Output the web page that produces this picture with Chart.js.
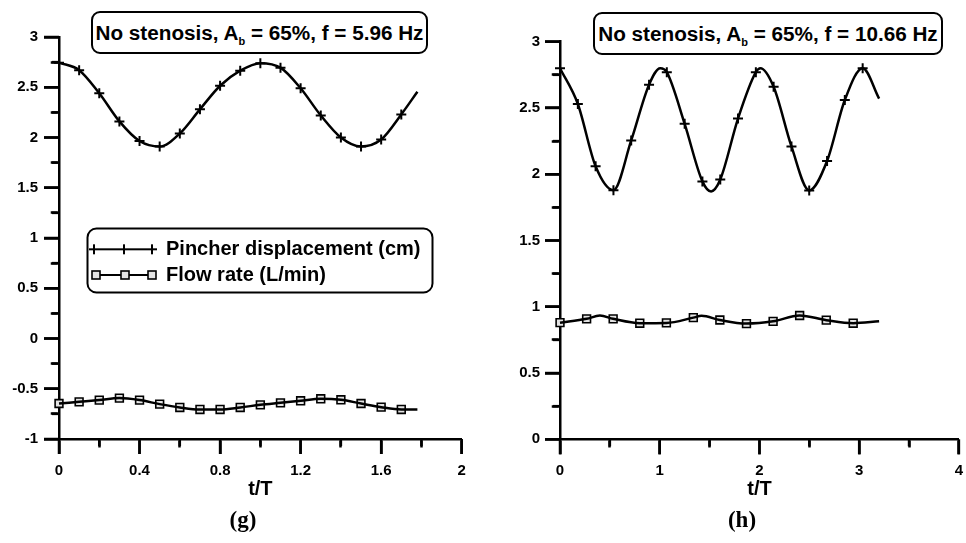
<!DOCTYPE html>
<html><head><meta charset="utf-8">
<script src="https://cdn.jsdelivr.net/npm/chart.js@4.4.0/dist/chart.umd.min.js"></script>
<style>
html,body{margin:0;padding:0;background:#fff;}
#wrap{position:relative;width:966px;height:543px;overflow:hidden;font-family:"Liberation Sans",Arial,sans-serif;}
canvas{position:absolute;top:0;}
canvas.ov{z-index:5;pointer-events:none;}
.tbox{position:absolute;box-sizing:border-box;border:2px solid #000;border-radius:9px;background:#fff;display:flex;align-items:center;justify-content:center;font-weight:bold;font-size:20.7px;color:#000;white-space:nowrap;}
.sb{font-size:11px;position:relative;top:5px;}
.cap{position:absolute;top:507px;font-family:"Liberation Serif",serif;font-weight:bold;font-size:23px;color:#000;transform:translateX(-50%);}
</style></head>
<body><div id="wrap">
<canvas id="cg" width="483" height="543" style="left:0"></canvas>
<canvas id="ch" width="483" height="543" style="left:483px"></canvas>
<div class="tbox" style="left:91px;top:11px;width:337px;height:43px;"><span>No stenosis, A<span class="sb">b</span> = 65%, f = 5.96 Hz</span></div>
<div class="tbox" style="left:593px;top:12px;width:350px;height:43px;"><span>No stenosis, A<span class="sb">b</span> = 65%, f = 10.66 Hz</span></div>
<div class="cap" style="left:243px;">(g)</div>
<div class="cap" style="left:742px;">(h)</div>
<canvas id="og" class="ov" width="483" height="543" style="left:0;width:483px;height:543px"></canvas>
<canvas id="oh" class="ov" width="483" height="543" style="left:483px;width:483px;height:543px"></canvas>
</div>
<script>
// ---------- data ----------
const seriesLabels = ['Pincher displacement (cm)', 'Flow rate (L/min)'];
const xTitle = 't/T';

// panel (g)
const gPinchT = [0,0.1,0.2,0.3,0.4,0.5,0.6,0.7,0.8,0.9,1.0,1.1,1.2,1.3,1.4,1.5,1.6,1.7];
const gPinchY = [2.745,2.67,2.44,2.16,1.965,1.91,2.04,2.28,2.515,2.665,2.74,2.695,2.49,2.22,2.0,1.91,1.98,2.23];
const gPinchExtraT = [1.78];
const gPinchExtraY = [2.455];
const gFlowT = [0,0.1,0.2,0.3,0.4,0.5,0.6,0.7,0.8,0.9,1.0,1.1,1.2,1.3,1.4,1.5,1.6,1.7];
const gFlowY = [-0.647,-0.63,-0.613,-0.593,-0.613,-0.653,-0.686,-0.706,-0.706,-0.686,-0.66,-0.64,-0.62,-0.60,-0.61,-0.647,-0.683,-0.706];
const gFlowExtraT = [1.78];
const gFlowExtraY = [-0.706];

// panel (h)
const hPinchT = [0,0.179,0.357,0.536,0.714,0.893,1.071,1.25,1.428,1.607,1.785,1.964,2.142,2.321,2.499,2.678,2.856,3.035];
const hPinchY = [2.80,2.53,2.06,1.88,2.255,2.676,2.77,2.38,1.946,1.96,2.42,2.77,2.66,2.21,1.878,2.10,2.56,2.80];
const hPinchExtraT = [1.005,1.515,2.01,3.2];
const hPinchExtraY = [2.80,1.87,2.80,2.57];
const hFlowT = [0,0.267,0.533,0.8,1.067,1.337,1.603,1.87,2.137,2.403,2.67,2.94];
const hFlowY = [0.88,0.909,0.909,0.876,0.878,0.918,0.90,0.873,0.89,0.934,0.899,0.876];
const hFlowExtraT = [0.4,1.42,3.2];
const hFlowExtraY = [0.934,0.932,0.89];

// ---------- helpers ----------
const FONT = '"Liberation Sans", Arial, sans-serif';
function pts(t, y){ return t.map((v,i)=>({x:v, y:y[i]})); }
function curve(t, y, et, ey){ return pts(t,y).concat(pts(et,ey)).sort((a,b)=>a.x-b.x); }
const fmt = v => String(Math.round(v*1000)/1000);
const isMajor = (v, m) => Math.abs(v/m - Math.round(v/m)) < 1e-6;
const TL = 15;     // major tick length
const MINOR = 7;   // minor tick length

function legendSymbol(kind){
  const c = document.createElement('canvas');
  c.width = 68; c.height = 14;
  const g = c.getContext('2d');
  g.strokeStyle = '#000'; g.lineWidth = 2.2;
  g.beginPath(); g.moveTo(3,7); g.lineTo(65,7); g.stroke();
  const xs = kind === 'cross' ? [5,35,63] : [7,36,63];
  xs.forEach(x=>{
    if (kind === 'cross') {
      g.lineWidth = 2;
      g.beginPath(); g.moveTo(x-5,7); g.lineTo(x+5,7); g.moveTo(x,2); g.lineTo(x,12); g.stroke();
    } else {
      g.lineWidth = 1.6; g.fillStyle = '#e4e4e4';
      g.fillRect(x-4,3,8,8); g.strokeRect(x-4,3,8,8);
    }
  });
  return c;
}

function legendPlace(o){
  return {
    id: 'legendPlace',
    afterLayout(chart){
      if (!o || !chart.legend) return;
      const L = chart.legend;
      L.left = o.x; L.top = o.y; L.right = o.x + o.w; L.bottom = o.y + o.h;
      L.width = o.w; L.height = o.h;
    },
    afterDraw(chart){
      if (!o) return;
      const ctx = chart.ctx;
      ctx.save(); ctx.strokeStyle = '#000'; ctx.lineWidth = 2;
      ctx.beginPath(); ctx.roundRect(o.bx, o.by, o.bw, o.bh, 9); ctx.stroke();
      ctx.restore();
    }
  };
}

// tick marks drawn from the chart's own scales onto an overlay canvas
function tickOverlay(overlayId, t){
  return {
    id: 'tickOverlay',
    afterRender(chart){
      const g = document.getElementById(overlayId).getContext('2d');
      const ca = chart.chartArea, xs = chart.scales.x, ys = chart.scales.y;
      g.clearRect(0, 0, 483, 543);
      g.strokeStyle = '#000'; g.lineWidth = 2.5; g.setLineDash([]);
      let n = Math.round((ys.max - ys.min)/t.yMinor);
      for (let i=0;i<=n;i++){
        const v = ys.min + i*t.yMinor, p = ys.getPixelForValue(v);
        g.beginPath(); g.moveTo(ca.left - (isMajor(v,t.yMajor)?TL:MINOR), p); g.lineTo(ca.left, p); g.stroke();
      }
      n = Math.round((xs.max - xs.min)/t.xMinor);
      for (let i=0;i<=n;i++){
        const v = xs.min + i*t.xMinor, p = xs.getPixelForValue(v);
        g.beginPath(); g.moveTo(p, ca.bottom); g.lineTo(p, ca.bottom + (isMajor(v,t.xMajor)?TL:MINOR)); g.stroke();
      }
    }
  };
}

function axisGrid(major, outerFirst){
  return {
    display:true, drawOnChartArea:false, drawTicks:true, tickLength:TL, tickWidth:2.5, tickColor:'#000', color:'#000',
    tickBorderDash(c){
      if (!c.tick || isMajor(c.tick.value, major)) return [];
      return outerFirst ? [0, TL - 1.25 - MINOR, MINOR, 60] : [MINOR, 60];
    }
  };
}

function makeChart(id, overlayId, d){
  const t = d.ticks;
  const datasets = [
    {label:'c1', data: curve(d.pT,d.pY,d.pET,d.pEY), borderColor:'#000', borderWidth:2.5, pointRadius:0, cubicInterpolationMode:'monotone', clip:false},
    {label: seriesLabels[0], data: pts(d.pT,d.pY), showLine:false, pointStyle:'cross', pointRadius:5, pointBorderWidth:2, borderColor:'#000', clip:false, legendKind:'cross'},
    {label:'c2', data: curve(d.fT,d.fY,d.fET,d.fEY), borderColor:'#000', borderWidth:2.5, pointRadius:0, cubicInterpolationMode:'monotone', clip:false},
    {label: seriesLabels[1], data: pts(d.fT,d.fY), showLine:false, pointStyle:'rect', pointRadius:5.5, pointBorderWidth:1.6, borderColor:'#000', backgroundColor:'#e4e4e4', clip:false, legendKind:'rect'}
  ];
  return new Chart(document.getElementById(id), {
    type:'line',
    data:{datasets},
    options:{
      responsive:false, animation:false, devicePixelRatio:1,
      layout:{padding:{left:0, top:d.padTop, right:d.padRight, bottom:0}},
      plugins:{
        title:{display:false}, tooltip:{enabled:false},
        legend:{
          display:!!d.legend, position:'chartArea', align:'start',
          labels:{
            usePointStyle:true, pointStyleWidth:66, padding:5.7, color:'#000',
            font:{family:FONT, weight:'bold', size:20},
            generateLabels(chart){
              return chart.data.datasets.map((ds,i)=>({ds,i})).filter(o=>o.ds.legendKind).map(o=>({
                text:o.ds.label, pointStyle:legendSymbol(o.ds.legendKind), fillStyle:'#000', strokeStyle:'#000', lineWidth:0, hidden:false, datasetIndex:o.i, fontColor:'#000'
              }));
            }
          }
        }
      },
      scales:{
        x:{type:'linear', min:d.xMin, max:d.xMax,
           grid:axisGrid(t.xMajor, false), border:{display:true, color:'#000', width:2.5},
           ticks:{stepSize:t.xMinor, padding:7.5, color:'#000', font:{family:FONT, weight:'bold', size:15}, maxRotation:0, autoSkip:false,
                  callback:v => isMajor(v, t.xMajor) ? fmt(v) : ''},
           title:{display:true, text:xTitle, color:'#000', font:{family:FONT, weight:'bold', size:20}, padding:{top:0,bottom:41.5}},
           afterFit(s){ s.height = d.xH; s.paddingLeft = 0; s.paddingRight = 0; }},
        y:{type:'linear', min:d.yMin, max:d.yMax,
           grid:axisGrid(t.yMajor, true), border:{display:true, color:'#000', width:2.5},
           ticks:{stepSize:t.yMinor, padding:d.yPad, color:'#000', font:{family:FONT, weight:'bold', size:15}, autoSkip:false,
                  callback:v => isMajor(v, t.yMajor) ? fmt(v) : ''},
           afterFit(s){ s.width = d.yW; s.paddingTop = 0; s.paddingBottom = 0; }}
      }
    },
    plugins:[legendPlace(d.legend), tickOverlay(overlayId, t)]
  });
}

makeChart('cg', 'og', {pT:gPinchT,pY:gPinchY,pET:gPinchExtraT,pEY:gPinchExtraY,fT:gFlowT,fY:gFlowY,fET:gFlowExtraT,fEY:gFlowExtraY,
  xMin:0,xMax:2,yMin:-1,yMax:3,ticks:{xMajor:0.4,xMinor:0.2,yMajor:0.5,yMinor:0.25},
  padTop:37,padRight:21.3,xH:104,yW:59,yPad:6,
  legend:{x:84.3, y:233.6, w:360, h:150, bx:87.5, by:228.5, bw:345, bh:64}});
makeChart('ch', 'oh', {pT:hPinchT,pY:hPinchY,pET:hPinchExtraT,pEY:hPinchExtraY,fT:hFlowT,fY:hFlowY,fET:hFlowExtraT,fEY:hFlowExtraY,
  xMin:0,xMax:4,yMin:0,yMax:3,ticks:{xMajor:1,xMinor:0.5,yMajor:0.5,yMinor:0.25},
  padTop:41.7,padRight:6,xH:103.7,yW:77,yPad:5,legend:null});
</script>
</body></html>
